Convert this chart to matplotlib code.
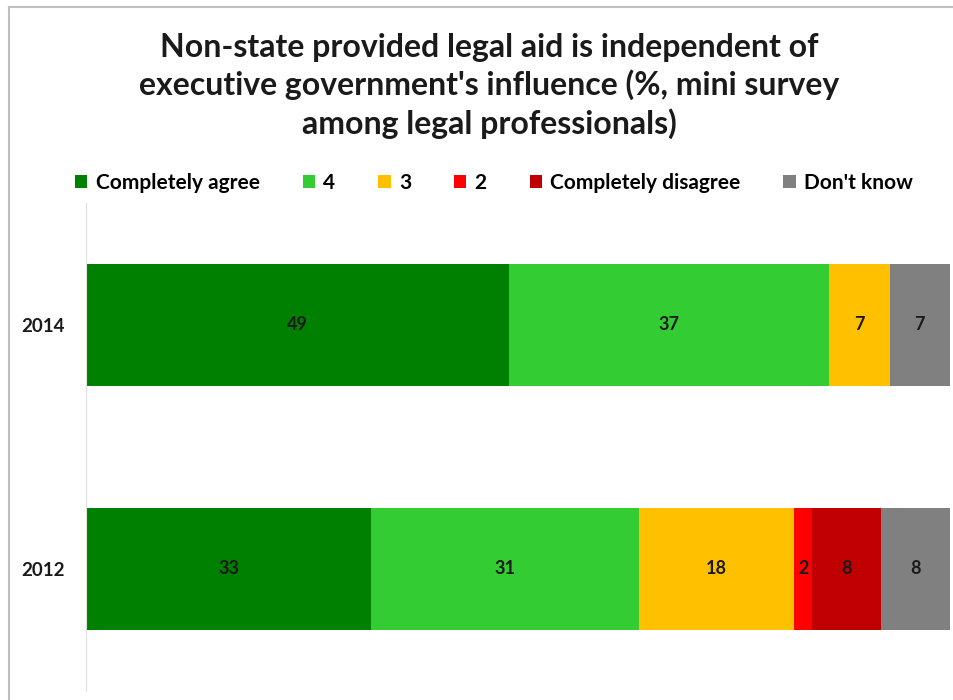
import numpy as np
import matplotlib.pyplot as plt
from matplotlib.lines import Line2D

# Donnees
years = ['2012', '2014']
categories = ['Completely agree', '4', '3', '2', 'Completely disagree', "Don't know"]
values = {
    'Completely agree': [33, 49],
    '4': [31, 37],
    '3': [18, 7],
    '2': [2, 0],
    'Completely disagree': [8, 0],
    "Don't know": [8, 7],
}
colors = ['#008000', '#33CC33', '#FFC000', '#FF0000', '#C00000', '#808080']

plt.rcParams['font.family'] = ['Lato', 'DejaVu Sans']

fig = plt.figure(figsize=(9.54, 7), dpi=100)
ax = fig.add_axes([86 / 954, 9 / 700, 864 / 954, 488 / 700])

y = np.arange(len(years))
left = np.zeros(len(years))
handles = []
for cat, col in zip(categories, colors):
    v = np.array(values[cat], dtype=float)
    bars = ax.barh(y, v, left=left, height=0.504, color=col, label=cat)
    handles.append(bars)
    for yi, (l, w) in enumerate(zip(left, v)):
        if w > 0:
            ax.text(l + w / 2, yi, f'{w:.0f}', ha='center', va='center',
                    fontsize=13, fontweight='bold', color='#1a1a1a')
    left += v

ax.set_xlim(0, 100)
ax.set_ylim(-0.5, 1.5)
ax.set_yticks(y)
ax.set_yticklabels(years, fontsize=13.5, fontweight='bold', color='#1a1a1a')
ax.tick_params(axis='y', length=0, pad=15)
ax.set_xticks([])
for s in ['top', 'right', 'bottom']:
    ax.spines[s].set_visible(False)
ax.spines['left'].set_color('#e0e0e0')

fig.text(489 / 954, 1 - 86 / 700,
         "Non-state provided legal aid is independent of\n"
         "executive government's influence (%, mini survey\n"
         "among legal professionals)",
         ha='center', va='center', fontsize=23, fontweight='bold',
         color='#1a1a1a', linespacing=1.32)

fig.legend(handles=handles, labels=categories, ncol=6, loc='center',
           bbox_to_anchor=(494 / 954, 1 - 183 / 700), frameon=False,
           prop={'size': 15, 'weight': 'bold'}, handlelength=0.6,
           handleheight=0.6, handletextpad=0.4, columnspacing=2.05)

# cadre
fig.add_artist(Line2D([9 / 954, 1], [1 - 7 / 700, 1 - 7 / 700],
                      transform=fig.transFigure, color='#bfbfbf', lw=1.5))
fig.add_artist(Line2D([9 / 954, 9 / 954], [0, 1 - 7 / 700],
                      transform=fig.transFigure, color='#bfbfbf', lw=1.5))

fig.savefig('out.png', dpi=100)
